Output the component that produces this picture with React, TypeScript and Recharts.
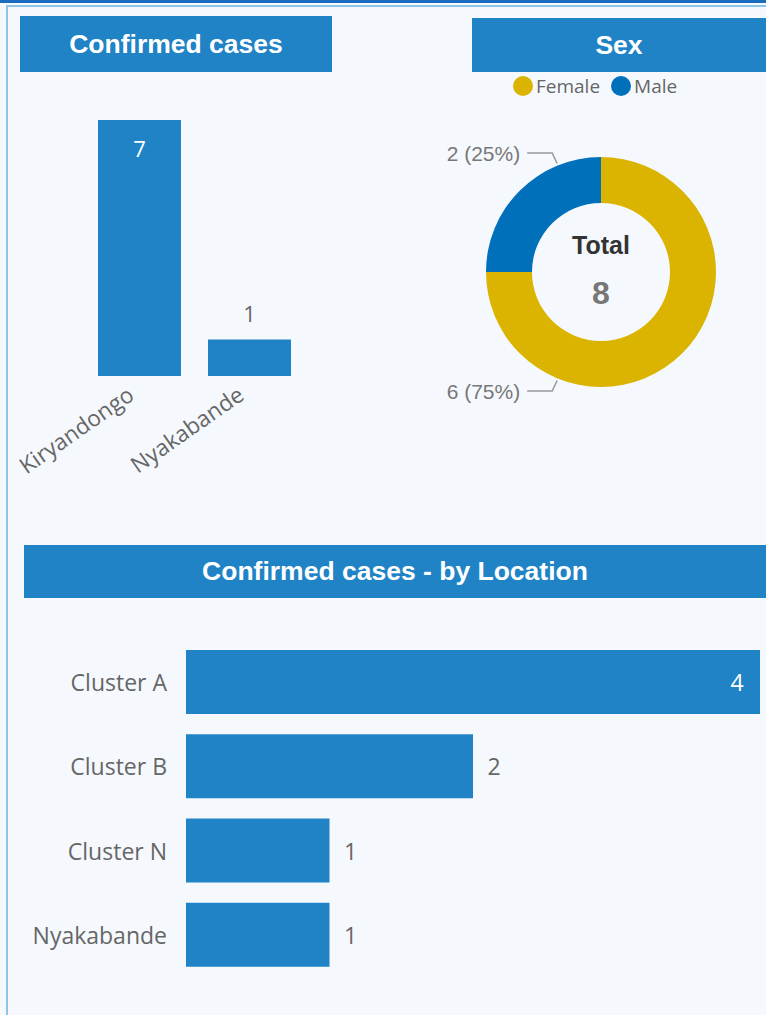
import { BarChart, Bar, XAxis, YAxis, PieChart, Pie, Cell, LabelList } from 'recharts';

const districts = ['Kiryandongo', 'Nyakabande'];
const districtCases = [7, 1];

const sexes = ['Female', 'Male'];
const sexCases = [6, 2];
const sexColors = ['#dab400', '#0070bb'];

const locations = ['Cluster A', 'Cluster B', 'Cluster N', 'Nyakabande'];
const locationCases = [4, 2, 1, 1];

const BLUE = '#1f83c6';
const SEGOE = '"Open Sans", "Noto Sans", sans-serif';
const ARIAL = '"Liberation Sans", Arial, sans-serif';

const districtData = districts.map((name, i) => ({ name, value: districtCases[i] }));
const sexData = sexes.map((name, i) => ({ name, value: sexCases[i] }));
const locationData = locations.map((name, i) => ({ name, value: locationCases[i] }));
const sexTotal = sexCases.reduce((a, b) => a + b, 0);
const locationMax = Math.max(...locationCases);

const header = (left: number, top: number, width: number, height: number) => ({
  position: 'absolute' as const,
  left,
  top,
  width,
  height,
  background: BLUE,
  color: '#fff',
  fontFamily: ARIAL,
  fontWeight: 700,
  fontSize: 26.5,
  display: 'flex',
  alignItems: 'center',
  justifyContent: 'center',
});

const RotatedTick = ({ x, y, payload }: any) => (
  <g transform={`translate(${x - 8},${y + 8})`}>
    <text
      textAnchor="end"
      dy="0.35em"
      transform="rotate(-35)"
      fontSize={22.5}
      fill="#666"
      fontFamily={SEGOE}
    >
      {payload.value}
    </text>
  </g>
);

const ColumnLabel = ({ x, y, width, height, value }: any) => {
  const inside = height > 60;
  return (
    <text
      x={x + width / 2}
      y={inside ? y + 28 : y - 26}
      textAnchor="middle"
      dominantBaseline="central"
      fill={inside ? '#fff' : '#666'}
      fontSize={22}
      fontFamily={SEGOE}
    >
      {value}
    </text>
  );
};

const LocationTick = ({ x, y, payload }: any) => (
  <text
    x={x}
    y={y}
    textAnchor="end"
    dominantBaseline="central"
    fontSize={23}
    fill="#666"
    fontFamily={SEGOE}
  >
    {payload.value}
  </text>
);

const RowLabel = ({ x, y, width, height, value }: any) => {
  const inside = value === locationMax;
  return (
    <text
      x={inside ? x + width - 23 : x + width + 21}
      y={y + height / 2}
      textAnchor="middle"
      dominantBaseline="central"
      fill={inside ? '#fff' : '#666'}
      fontSize={23}
      fontFamily={SEGOE}
    >
      {value}
    </text>
  );
};

const renderSexLabel = ({ cx, cy, outerRadius, midAngle, value }: any) => {
  const RAD = Math.PI / 180;
  const upper = Math.sin(midAngle * RAD) > 0;
  const a = (upper ? 112 : 248) * RAD;
  const sx = cx + (outerRadius + 2) * Math.cos(a);
  const sy = cy - (outerRadius + 2) * Math.sin(a);
  const ty = cy + (upper ? -119 : 119);
  const pct = Math.round((value / sexTotal) * 100);
  return (
    <g>
      <polyline
        points={`${sx},${sy} ${sx - 5},${ty} ${sx - 30},${ty}`}
        fill="none"
        stroke="#999"
        strokeWidth={1.5}
      />
      <text
        x={sx - 37}
        y={ty}
        textAnchor="end"
        dominantBaseline="central"
        fontSize={21}
        fill="#777"
        fontFamily={ARIAL}
      >
        {`${value} (${pct}%)`}
      </text>
    </g>
  );
};

export default function App() {
  return (
    <div
      style={{
        position: 'absolute',
        left: 0,
        top: 0,
        width: 766,
        height: 1015,
        background: '#f5f9fd',
        overflow: 'hidden',
      }}
    >
      {/* frame */}
      <div style={{ position: 'absolute', left: 0, top: 0, width: 766, height: 3, background: '#1a6cbe' }} />
      <div style={{ position: 'absolute', left: 6, top: 5, width: 760, height: 2, background: '#8fc3e7' }} />
      <div style={{ position: 'absolute', left: 6, top: 5, width: 2, height: 1010, background: '#8fc3e7' }} />

      <div style={header(20, 16, 312, 56)}>Confirmed cases</div>
      <div style={header(472, 18, 294, 54)}>Sex</div>
      <div style={header(24, 545, 742, 53)}>Confirmed cases - by Location</div>

      {/* confirmed cases by district */}
      <div style={{ position: 'absolute', left: 0, top: 100 }}>
        <BarChart
          width={320}
          height={400}
          data={districtData}
          margin={{ top: 20, right: 16, bottom: 24, left: 84 }}
          barSize={83}
        >
          <XAxis
            dataKey="name"
            axisLine={false}
            tickLine={false}
            interval={0}
            height={100}
            tick={<RotatedTick />}
          />
          <YAxis hide domain={[0, 'dataMax']} />
          <Bar dataKey="value" fill={BLUE} isAnimationActive={false}>
            <LabelList dataKey="value" content={<ColumnLabel />} />
          </Bar>
        </BarChart>
      </div>

      {/* sex donut */}
      <div
        style={{
          position: 'absolute',
          left: 513,
          top: 76,
          display: 'flex',
          alignItems: 'center',
          fontFamily: SEGOE,
          fontSize: 19,
          color: '#666',
          lineHeight: '20px',
        }}
      >
        {sexData.map((d, i) => (
          <div key={d.name} style={{ display: 'flex', alignItems: 'center', marginRight: 11 }}>
            <span
              style={{
                width: 20,
                height: 20,
                borderRadius: 10,
                background: sexColors[i],
                marginRight: 3,
                display: 'inline-block',
              }}
            />
            {d.name}
          </div>
        ))}
      </div>
      <div style={{ position: 'absolute', left: 420, top: 122 }}>
        <PieChart width={340} height={300}>
          <Pie
            data={sexData}
            dataKey="value"
            cx={176}
            cy={145}
            innerRadius={69}
            outerRadius={115}
            startAngle={90}
            endAngle={-270}
            stroke="none"
            labelLine={false}
            label={renderSexLabel}
            isAnimationActive={false}
          >
            {sexData.map((d, i) => (
              <Cell key={d.name} fill={sexColors[i]} />
            ))}
          </Pie>
        </PieChart>
      </div>
      <div
        style={{
          position: 'absolute',
          left: 541,
          top: 229,
          width: 120,
          textAlign: 'center',
          fontFamily: ARIAL,
          fontWeight: 700,
          fontSize: 25,
          lineHeight: '32px',
          color: '#333',
        }}
      >
        Total
      </div>
      <div
        style={{
          position: 'absolute',
          left: 541,
          top: 273,
          width: 120,
          textAlign: 'center',
          fontFamily: ARIAL,
          fontWeight: 700,
          fontSize: 32,
          lineHeight: '40px',
          color: '#777',
        }}
      >
        {sexTotal}
      </div>

      {/* confirmed cases by location */}
      <div style={{ position: 'absolute', left: 0, top: 600 }}>
        <BarChart
          layout="vertical"
          width={766}
          height={415}
          data={locationData}
          margin={{ top: 40, right: 6, bottom: 38, left: 0 }}
          barSize={64}
        >
          <XAxis type="number" hide domain={[0, 'dataMax']} />
          <YAxis
            type="category"
            dataKey="name"
            width={186}
            axisLine={false}
            tickLine={false}
            tickSize={0}
            tickMargin={19}
            tick={<LocationTick />}
          />
          <Bar dataKey="value" fill={BLUE} isAnimationActive={false}>
            <LabelList dataKey="value" content={<RowLabel />} />
          </Bar>
        </BarChart>
      </div>
    </div>
  );
}
